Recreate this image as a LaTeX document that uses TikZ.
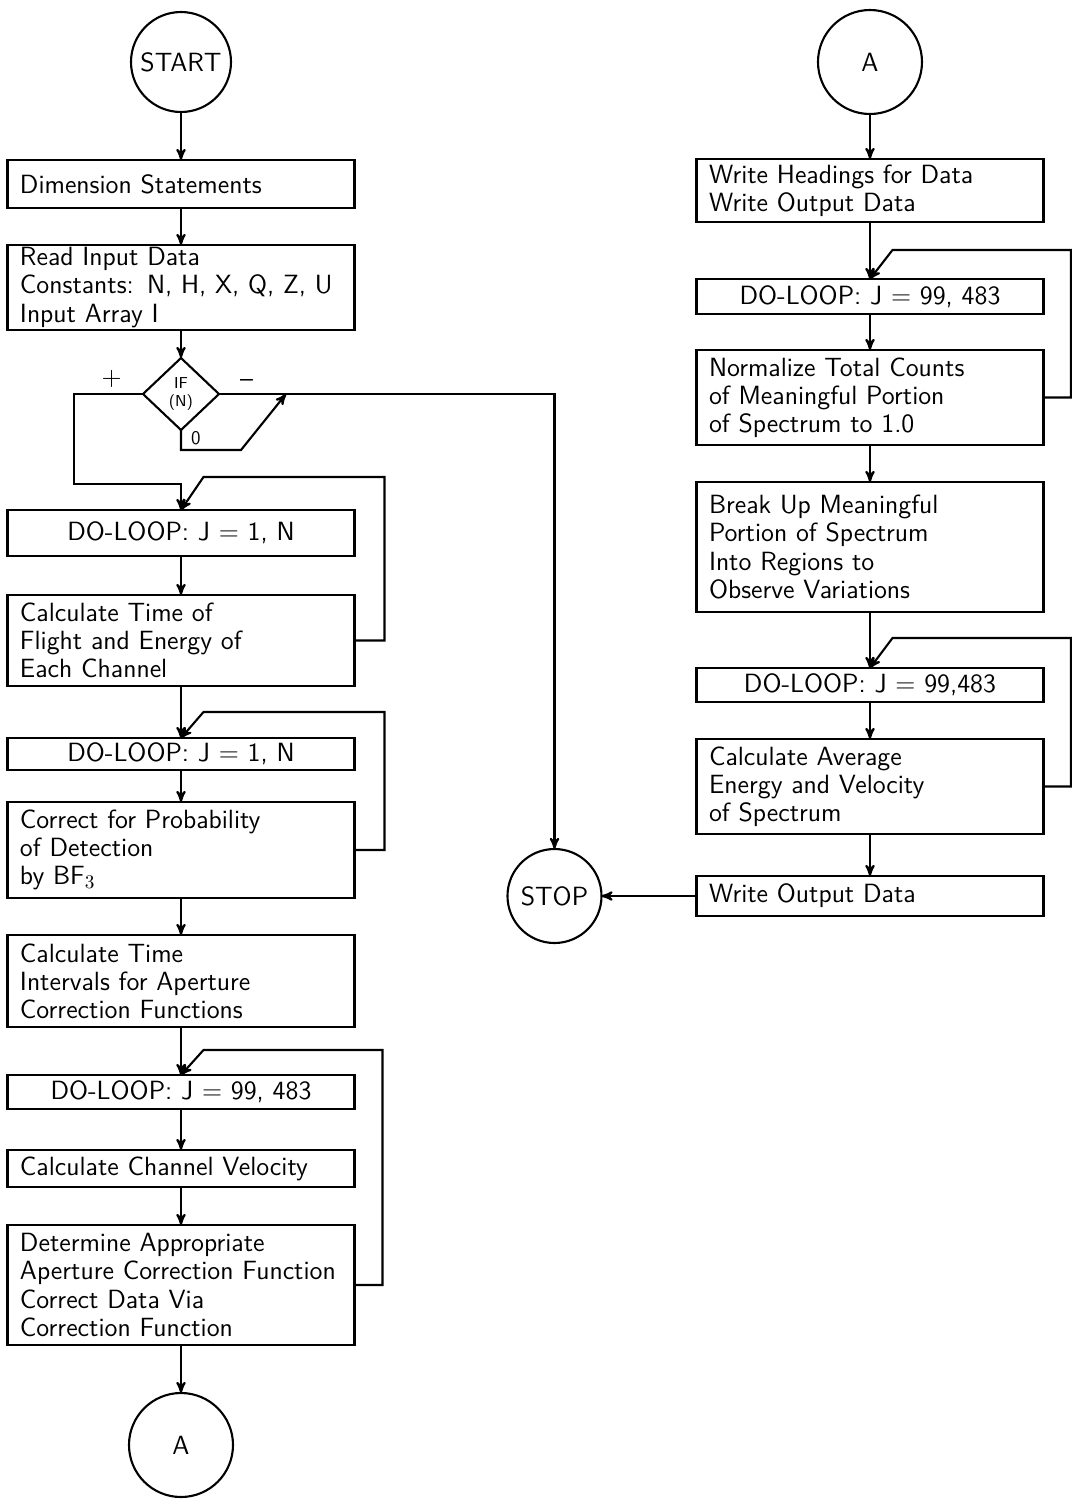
\documentclass[tikz,border=0pt]{standalone}
\usetikzlibrary{arrows,positioning,shapes.geometric}
\tikzset{
    %Define standard arrow tip
    >=stealth',
    %Define style for process boxes
    procbox/.style={
           rectangle,
           draw=black, line width=1.2pt,
           text width=6.44cm,
           inner xsep=0.25cm,
           inner ysep=1pt,
           outer sep=0pt,
           align=left,
           font=\sffamily\fontsize{15}{16}\selectfont},
    loopbox/.style={
           procbox,
           align=center},
    %Define style for connectors and decision
    connector/.style={
           circle,
           draw=black, line width=1.2pt,
           inner sep=0pt,
           outer sep=0pt,
           font=\sffamily\fontsize{15}{16}\selectfont},
    decision/.style={
           diamond,
           draw=black, line width=1.2pt,
           minimum width=1.52cm,
           minimum height=1.44cm,
           inner sep=0pt,
           outer sep=0pt,
           align=center,
           font=\sffamily\fontsize{9}{10}\selectfont},
    % Define arrow style
    pil/.style={
           ->,
           line width=1.2pt}
}
\begin{document}
\begin{tikzpicture}
 \useasboundingbox (-3.62,1.24) rectangle (17.82,-28.74);

 % left column
 \node[connector, minimum size=2cm] (start) at (0,0) {START};
 \node[procbox, minimum height=0.96cm, below=0.96cm of start] (dim) {Dimension Statements};
 \node[procbox, minimum height=1.70cm, below=0.74cm of dim] (read) {
 	Read Input Data\\
 	Constants: N, H, X, Q, Z, U\\
 	Input Array I};
 \node[decision, below=0.56cm of read] (ifn) {IF\\(N)};
 \node[loopbox, minimum height=0.92cm, below=1.60cm of ifn] (loopA) {DO-LOOP: J = 1, N};
 \node[procbox, minimum height=1.82cm, below=0.78cm of loopA] (tof) {
 	Calculate Time of\\
 	Flight and Energy of\\
 	Each Channel};
 \node[loopbox, minimum height=0.64cm, below=1.04cm of tof] (loopB) {DO-LOOP: J = 1, N};
 \node[procbox, minimum height=1.92cm, below=0.64cm of loopB] (prob) {
 	Correct for Probability\\
 	of Detection\\
 	by BF$_3$};
 \node[procbox, minimum height=1.84cm, below=0.74cm of prob] (intv) {
 	Calculate Time\\
 	Intervals for Aperture\\
 	Correction Functions};
 \node[loopbox, minimum height=0.68cm, below=0.96cm of intv] (loopC) {DO-LOOP: J = 99, 483};
 \node[procbox, minimum height=0.74cm, below=0.82cm of loopC] (vel) {Calculate Channel Velocity};
 \node[procbox, minimum height=2.40cm, below=0.76cm of vel] (aper) {
 	Determine Appropriate\\
 	Aperture Correction Function\\
 	Correct Data Via\\
 	Correction Function};
 \node[connector, minimum size=2.08cm, below=0.96cm of aper] (conA) {A};

 % right column
 \node[connector, minimum size=2.08cm] (conB) at (13.78,0) {A};
 \node[procbox, minimum height=1.26cm, below=0.90cm of conB] (head) {
 	Write Headings for Data\\
 	Write Output Data};
 \node[loopbox, minimum height=0.70cm, below=1.14cm of head] (loopD) {DO-LOOP: J = 99, 483};
 \node[procbox, minimum height=1.90cm, below=0.72cm of loopD] (norm) {
 	Normalize Total Counts\\
 	of Meaningful Portion\\
 	of Spectrum to 1.0};
 \node[procbox, minimum height=2.60cm, below=0.74cm of norm] (brk) {
 	Break Up Meaningful\\
 	Portion of Spectrum\\
 	Into Regions to\\
 	Observe Variations};
 \node[loopbox, minimum height=0.68cm, below=1.12cm of brk] (loopE) {DO-LOOP: J = 99,483};
 \node[procbox, minimum height=1.90cm, below=0.74cm of loopE] (avg) {
 	Calculate Average\\
 	Energy and Velocity\\
 	of Spectrum};
 \node[procbox, minimum height=0.80cm, below=0.84cm of avg] (out) {Write Output Data};
 \node[connector, minimum size=1.88cm, left=1.9cm of out] (stop) {STOP};

 % straight flow
 \draw[pil] (start) -- (dim);
 \draw[pil] (dim) -- (read);
 \draw[pil] (read) -- (ifn);
 \draw[pil] (loopA) -- (tof);
 \draw[pil] (tof) -- (loopB);
 \draw[pil] (loopB) -- (prob);
 \draw[pil] (prob) -- (intv);
 \draw[pil] (intv) -- (loopC);
 \draw[pil] (loopC) -- (vel);
 \draw[pil] (vel) -- (aper);
 \draw[pil] (aper) -- (conA);
 \draw[pil] (conB) -- (head);
 \draw[pil] (head) -- (loopD);
 \draw[pil] (loopD) -- (norm);
 \draw[pil] (norm) -- (brk);
 \draw[pil] (brk) -- (loopE);
 \draw[pil] (loopE) -- (avg);
 \draw[pil] (avg) -- (out);
 \draw[pil] (out) -- (stop);

 % branches of the IF
 \coordinate (zero) at ([xshift=1.34cm]ifn.east);
 \draw[pil] (ifn.west) -- ++(-1.38,0) |- ([yshift=0.52cm]loopA.north) -- (loopA.north);
 \draw[pil] (ifn.east) -| (stop.north);
 \draw[pil] (ifn.south) -- ++(0,-0.4) -- ++(1.2,0) -- (zero);
 \node[font=\sffamily\fontsize{15}{16}\selectfont, above left=0pt and 0.3cm of ifn.west] {+};
 \node[font=\sffamily\fontsize{15}{16}\selectfont, above right=0pt and 0.3cm of ifn.east] {--};
 \node[font=\sffamily\fontsize{11}{12}\selectfont, anchor=west] at ([xshift=0.08cm, yshift=-0.16cm]ifn.south) {0};

 % loop returns
 \draw[pil] (tof.east) -- ++(0.6,0) |- ([xshift=0.45cm, yshift=0.66cm]loopA.north) -- (loopA.north);
 \draw[pil] (prob.east) -- ++(0.6,0) |- ([xshift=0.45cm, yshift=0.52cm]loopB.north) -- (loopB.north);
 \draw[pil] (aper.east) -- ++(0.56,0) |- ([xshift=0.45cm, yshift=0.50cm]loopC.north) -- (loopC.north);
 \draw[pil] (norm.east) -- ++(0.55,0) |- ([xshift=0.45cm, yshift=0.58cm]loopD.north) -- (loopD.north);
 \draw[pil] (avg.east) -- ++(0.55,0) |- ([xshift=0.45cm, yshift=0.60cm]loopE.north) -- (loopE.north);

\end{tikzpicture}
\end{document}
